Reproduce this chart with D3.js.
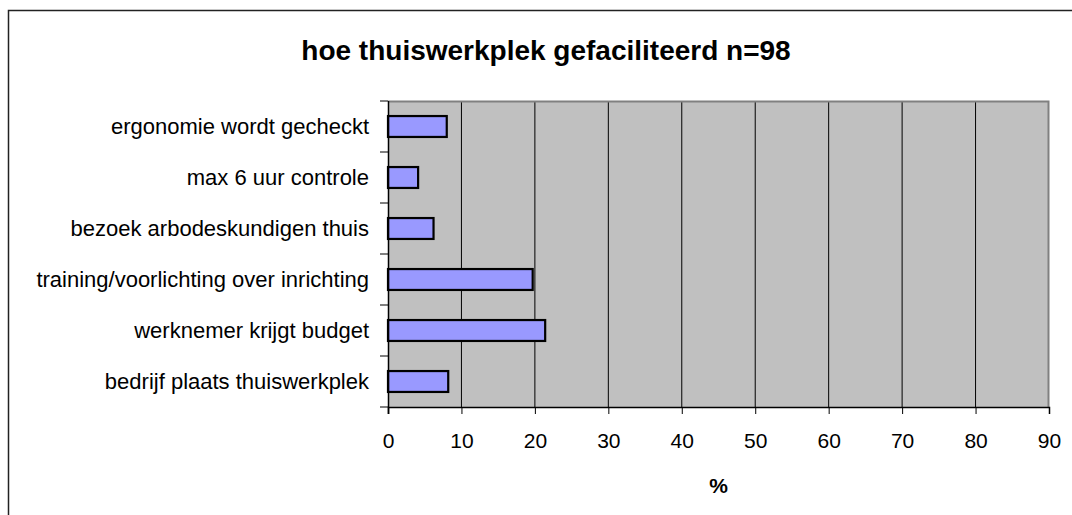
<!DOCTYPE html>
<html>
<head>
<meta charset="utf-8">
<script src="https://cdn.jsdelivr.net/npm/d3@7"></script>
<style>
  body { margin: 0; background: #fff; }
  svg { display: block; font-family: "Liberation Sans", Arial, sans-serif; }
</style>
</head>
<body>
<script>
// chart data
var categories = [
  "ergonomie wordt gecheckt",
  "max 6 uur controle",
  "bezoek arbodeskundigen thuis",
  "training/voorlichting over inrichting",
  "werknemer krijgt budget",
  "bedrijf plaats thuiswerkplek"
];
var percentages = [8.0, 4.1, 6.2, 19.7, 21.4, 8.2];
var xTicks = [0, 10, 20, 30, 40, 50, 60, 70, 80, 90];
var title = "hoe thuiswerkplek gefaciliteerd n=98";
var xTitle = "%";

var width = 1072,
  height = 515;
var margin = { top: 101, right: 23, bottom: 108, left: 388 };
var plotW = width - margin.left - margin.right,
  plotH = height - margin.top - margin.bottom;

var svg = d3.select("body").append("svg")
  .attr("width", width)
  .attr("height", height);

// outer chart border (only top/left fall inside the picture)
svg.append("rect")
  .attr("x", 8.5).attr("y", 10.5)
  .attr("width", width).attr("height", height)
  .attr("fill", "none")
  .attr("stroke", "#222")
  .attr("stroke-width", 1.5);

svg.append("text")
  .attr("x", 546).attr("y", 60)
  .attr("text-anchor", "middle")
  .attr("font-size", "28px")
  .attr("font-weight", "bold")
  .text(title);

var x = d3.scaleLinear().domain([0, 90]).range([0, plotW]);
var pad = 0.59;
var y = d3.scaleBand().domain(categories).range([0, plotH])
  .paddingInner(pad).paddingOuter(pad / 2);

var g = svg.append("g").attr("transform", `translate(${margin.left},${margin.top})`);

g.append("rect")
  .attr("width", plotW).attr("height", plotH)
  .attr("fill", "#c0c0c0");

// vertical gridlines
g.selectAll("line.grid")
  .data(xTicks.slice(1, -1))
  .enter().append("line")
  .attr("class", "grid")
  .attr("x1", d => x(d)).attr("x2", d => x(d))
  .attr("y1", 0).attr("y2", plotH)
  .attr("stroke", "#000").attr("stroke-width", 1);

// top / right plot border
g.append("path")
  .attr("d", `M0,0.5H${plotW - 0.5}V${plotH}`)
  .attr("fill", "none")
  .attr("stroke", "#808080")
  .attr("stroke-width", 2);

g.selectAll("rect.bar")
  .data(categories)
  .enter().append("rect")
  .attr("class", "bar")
  .attr("x", x(0))
  .attr("y", d => y(d))
  .attr("width", (d, i) => x(percentages[i]) - x(0))
  .attr("height", y.bandwidth())
  .attr("fill", "#9999ff")
  .attr("stroke", "#000")
  .attr("stroke-width", 2.2);

// x axis
var xAxis = g.append("g")
  .attr("transform", `translate(0,${plotH})`)
  .call(d3.axisBottom(x).tickValues(xTicks).tickSize(7).tickPadding(19));
xAxis.select(".domain").attr("stroke", "#000").attr("stroke-width", 1.5);
xAxis.selectAll("text")
  .attr("font-size", "21px")
  .attr("font-family", "Liberation Sans, Arial, sans-serif")
  .attr("fill", "#000");

// y axis: ticks between categories
var step = y.step();
var bounds = d3.range(categories.length + 1).map(k => k * step);
g.append("line")
  .attr("x1", 0.5).attr("x2", 0.5)
  .attr("y1", 0).attr("y2", plotH + 7)
  .attr("stroke", "#000").attr("stroke-width", 1.5);
g.selectAll("line.ytick")
  .data(bounds)
  .enter().append("line")
  .attr("class", "ytick")
  .attr("x1", -8).attr("x2", 0)
  .attr("y1", d => d).attr("y2", d => d)
  .attr("stroke", "#000").attr("stroke-width", 1);

g.selectAll("text.cat")
  .data(categories)
  .enter().append("text")
  .attr("class", "cat")
  .attr("x", -19)
  .attr("y", d => y(d) + y.bandwidth() / 2)
  .attr("dy", "0.36em")
  .attr("text-anchor", "end")
  .attr("font-size", "22px")
  .text(d => d);

svg.append("text")
  .attr("x", margin.left + plotW / 2)
  .attr("y", 493)
  .attr("text-anchor", "middle")
  .attr("font-size", "21px")
  .attr("font-weight", "bold")
  .text(xTitle);
</script>
</body>
</html>
